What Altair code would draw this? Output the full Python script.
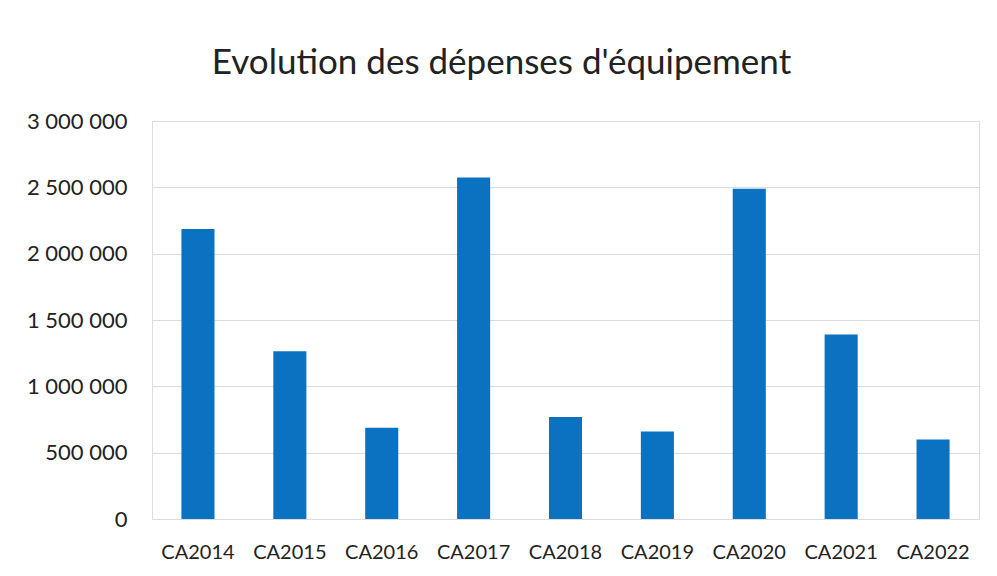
import altair as alt
import pandas as pd

categories = ["CA2014", "CA2015", "CA2016", "CA2017", "CA2018", "CA2019", "CA2020", "CA2021", "CA2022"]
values = [2185000, 1265000, 688000, 2575000, 768000, 660000, 2490000, 1390000, 600000]
y_ticks = [0, 500000, 1000000, 1500000, 2000000, 2500000, 3000000]
title_text = "Evolution des dépenses d'équipement"

df = pd.DataFrame({"cat": categories, "val": values})

FONT = "Lato"

chart = alt.Chart(df).mark_bar(color="#0B72C2").encode(
    x=alt.X("cat:N", sort=categories, title=None,
            scale=alt.Scale(paddingInner=0.64, paddingOuter=0.32),
            axis=alt.Axis(labelAngle=0, labelFont=FONT, labelFontSize=20, labelColor="#222222",
                          labelPadding=23, ticks=False, domain=False, grid=False)),
    y=alt.Y("val:Q", title=None,
            scale=alt.Scale(domain=[0, 3000000], nice=False),
            axis=alt.Axis(values=y_ticks, labelFont=FONT, labelFontSize=22, labelColor="#222222",
                          labelPadding=25, ticks=False, domain=False, grid=True,
                          gridColor="#dcdcdc", gridWidth=1,
                          labelExpr="replace(format(datum.value, ','), regexp(',', 'g'), ' ')")),
).properties(
    width=827, height=398,
    autosize=alt.AutoSizeParams(type="none"),
    padding={"left": 144, "top": 113, "right": 10, "bottom": 48},
    title=alt.TitleParams(title_text, font=FONT, fontSize=35, fontWeight="normal", color="#222222",
                          anchor="middle", offset=29, dx=-64),
).configure_view(stroke=None).configure(background="white")

chart.save("out.html", embed_options={"renderer": "svg", "actions": False})
